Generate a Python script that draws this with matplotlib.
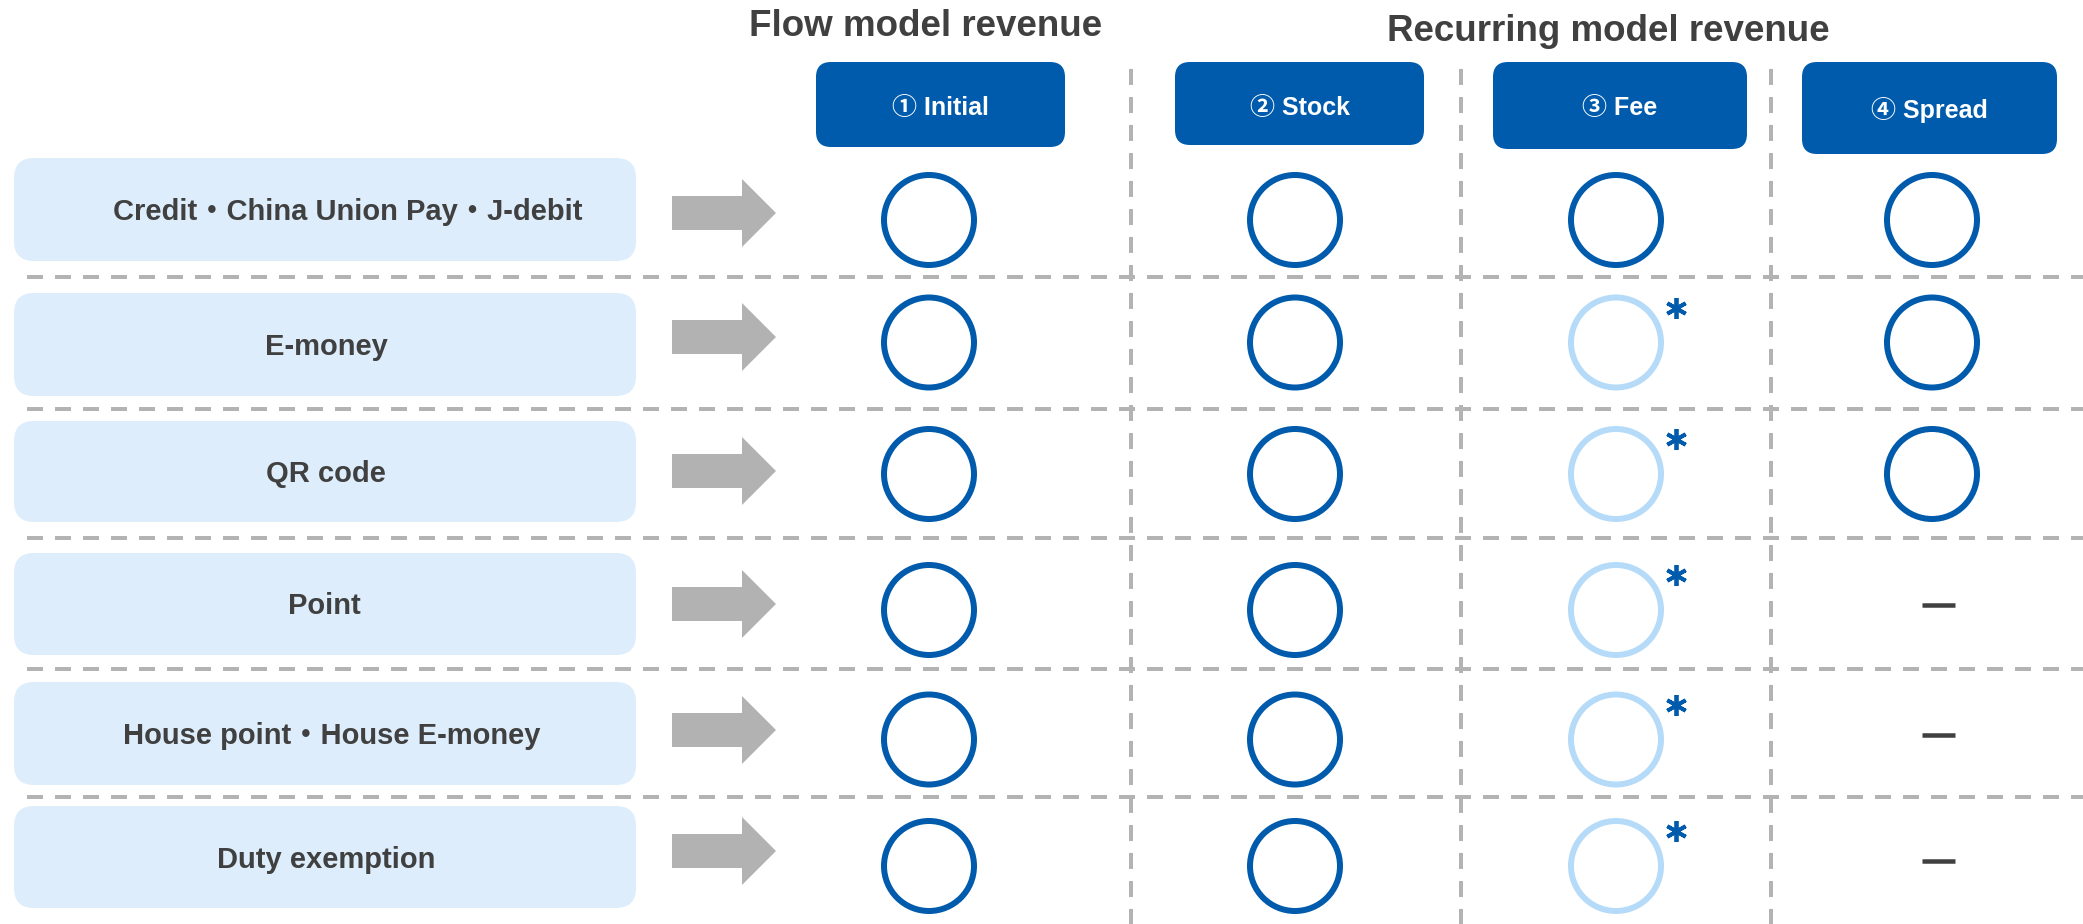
import matplotlib
matplotlib.use("Agg")
import matplotlib.pyplot as plt
from matplotlib.patches import FancyBboxPatch, Circle, FancyArrow

# ---------------- data ----------------
group_titles = ["Flow model revenue", "Recurring model revenue"]
columns = ["① Initial", "② Stock", "③ Fee", "④ Spread"]
rows = ["Credit・China Union Pay・J-debit", "E-money", "QR code", "Point",
        "House point・House E-money", "Duty exemption"]
# cell marks: "full" = available, "partial" = available with note (*), "none" = not applicable
initial = ["full", "full", "full", "full", "full", "full"]
stock = ["full", "full", "full", "full", "full", "full"]
fee = ["full", "partial", "partial", "partial", "partial", "partial"]
spread = ["full", "full", "full", "none", "none", "none"]
cells = [initial, stock, fee, spread]

# ---------------- style / layout (pixel space) ----------------
W, H = 2083, 924
PT = 72 / 100.0
BLUE = "#005BAC"
LIGHT = "#B5DBF8"
ROWFILL = "#DDEDFC"
GREY = "#B3B3B3"
TXT = "#404040"
FONT = ["Liberation Sans", "Noto Sans CJK JP", "DejaVu Sans"]

plt.rcParams["lines.scale_dashes"] = False
fig = plt.figure(figsize=(W / 100, H / 100), dpi=100)
ax = fig.add_axes([0, 0, 1, 1])
ax.set_xlim(0, W)
ax.set_ylim(H, 0)
ax.axis("off")

col_x = [929, 1295, 1616, 1932]
head_box = [(816, 1065, 62, 147), (1175, 1424, 62, 145), (1493, 1747, 62, 149), (1802, 2057, 62, 154)]
head_base = [115, 115, 115, 118]
title_pos = [(926, 36), (1608, 41)]

row_box = [(158, 261), (293, 396), (421, 522), (553, 655), (682, 785), (806, 908)]
row_text_x = [348, 326, 326, 324, 332, 326]
arrow_y = [213, 337, 471, 604, 730, 851]
circ_y = [220, 342.5, 474, 610, 739.5, 866]
hline_y = [277, 409, 538, 669, 797]
vline_x = [1131, 1461, 1771]

dash = (0, (16 * PT, 12 * PT))

# dashed grid
for y in hline_y:
    ax.plot([27, W], [y, y], color=GREY, lw=4 * PT, ls=dash, solid_capstyle="butt", zorder=1)
for x in vline_x:
    ax.plot([x, x], [69, H], color=GREY, lw=4 * PT, ls=dash, zorder=1)

# group titles
for t, (x, y) in zip(group_titles, title_pos):
    ax.text(x, y, t, ha="center", va="baseline", fontsize=26.5, fontweight="bold",
            color=TXT, family=FONT, zorder=5)

# column headers
for name, (x0, x1, y0, y1), yb in zip(columns, head_box, head_base):
    ax.add_patch(FancyBboxPatch((x0, y0), x1 - x0, y1 - y0,
                                boxstyle="round,pad=0,rounding_size=15",
                                fc=BLUE, ec="none", zorder=3))
    ax.text((x0 + x1) / 2, yb, name, ha="center", va="baseline", fontsize=18,
            fontweight="bold", color="white", family=FONT, zorder=5)

# row labels + arrows
for i, label in enumerate(rows):
    y0, y1 = row_box[i]
    ax.add_patch(FancyBboxPatch((14, y0), 622, y1 - y0,
                                boxstyle="round,pad=0,rounding_size=20",
                                fc=ROWFILL, ec="none", zorder=3))
    cy = (y0 + y1) / 2
    ax.text(row_text_x[i], cy + 10.5, label, ha="center", va="baseline", fontsize=21,
            fontweight="bold", color=TXT, family=FONT, zorder=5)
    ax.add_patch(FancyArrow(672, arrow_y[i], 104, 0, width=34, head_width=68,
                            head_length=34, length_includes_head=True,
                            fc="#B2B2B2", ec="none", zorder=3))

# cell marks
for j, colvals in enumerate(cells):
    for i, v in enumerate(colvals):
        cx, cy = col_x[j], circ_y[i]
        if v in ("full", "partial"):
            ax.add_patch(Circle((cx, cy), 45, fill=False,
                                ec=BLUE if v == "full" else LIGHT,
                                lw=6 * PT, zorder=4))
            if v == "partial":
                ax.plot([cx + 60], [cy - 35], marker=(6, 2, 0), ms=21 * PT,
                        mew=3.8 * PT, color=BLUE, zorder=5)
        else:
            ax.plot([cx + 6], [cy - 5], marker="_", ms=33 * PT, mew=4.5 * PT,
                    color=TXT, zorder=5)

fig.savefig("out.png", dpi=100, facecolor="white")
